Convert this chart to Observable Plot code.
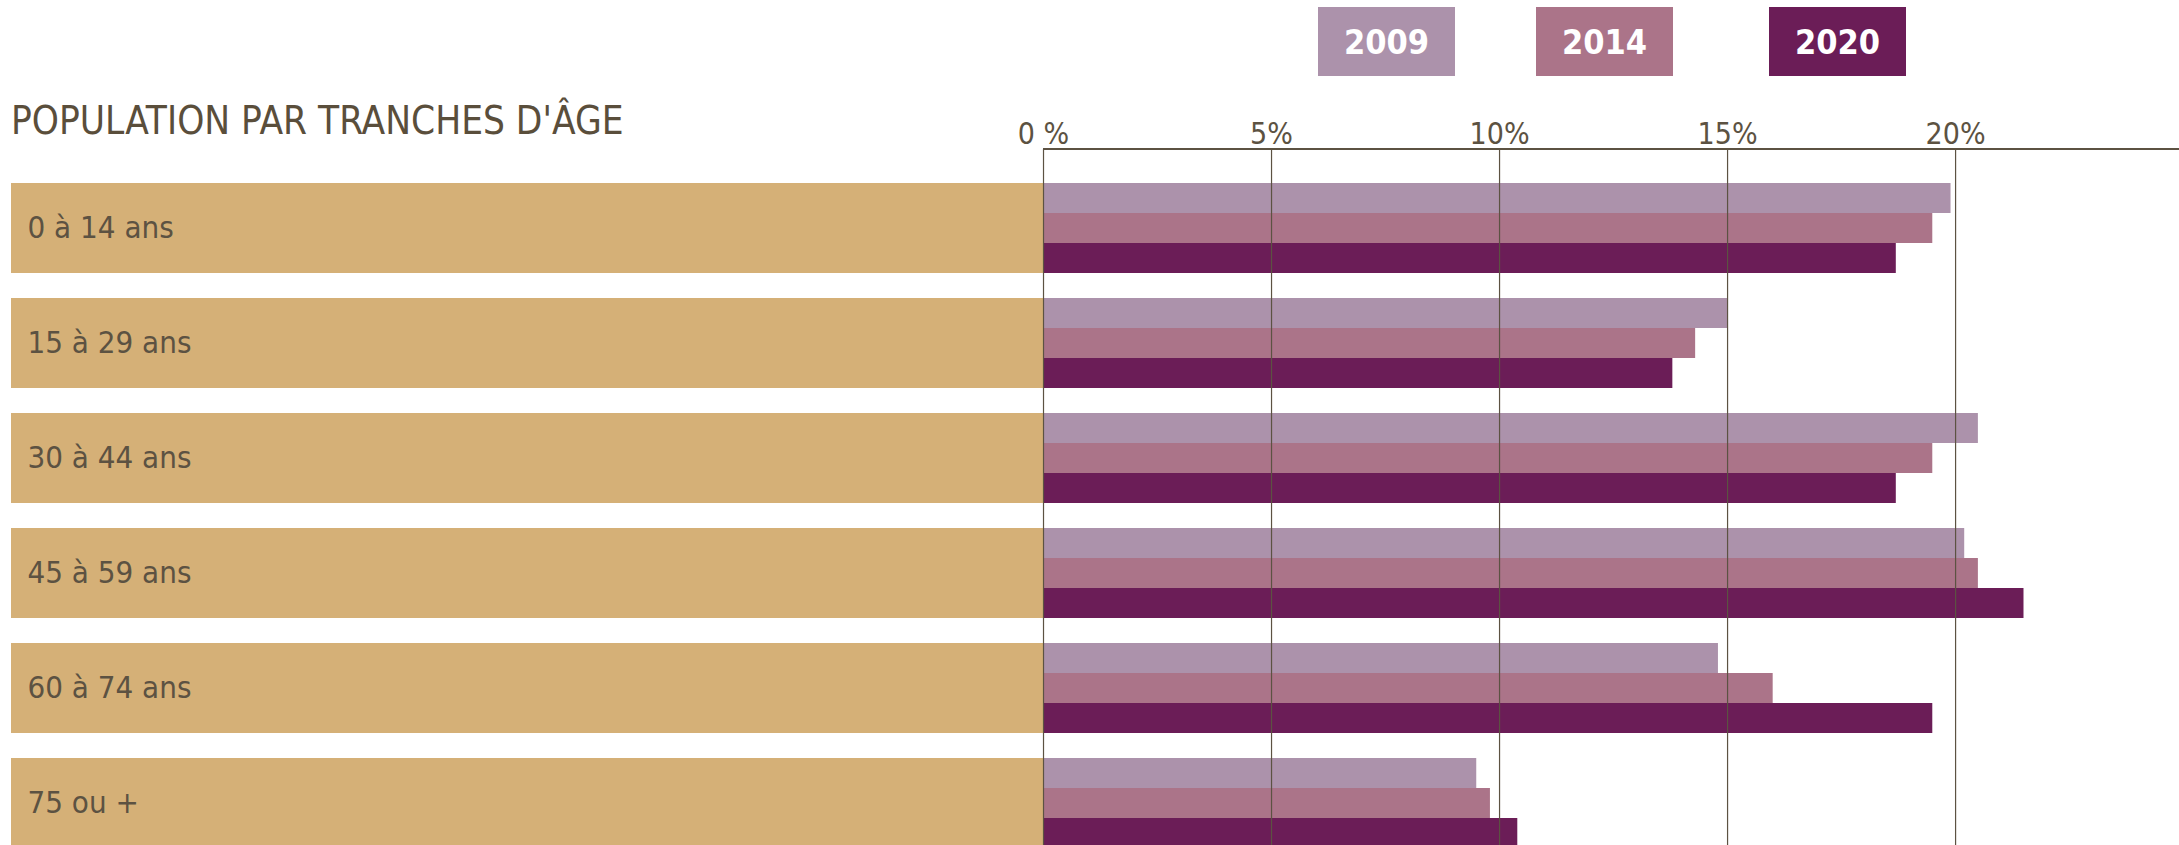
<!DOCTYPE html>
<html><head><meta charset="utf-8">
<script src="https://cdn.jsdelivr.net/npm/d3@7"></script>
<script src="https://cdn.jsdelivr.net/npm/@observablehq/plot@0.6"></script>
<style>
body{margin:0;background:#fff;}
#wrap{position:relative;width:2179px;height:845px;overflow:hidden;font-family:"DejaVu Sans Condensed","DejaVu Sans",sans-serif;font-stretch:condensed;}
#chart{position:absolute;left:0;top:0;}
#title{position:absolute;left:11px;top:102px;font-size:38.4px;line-height:1;color:#5a4e3b;white-space:nowrap;margin:0;font-weight:normal;}
.lg{position:absolute;top:7px;height:69px;width:137px;color:#fff;font-weight:bold;font-size:34px;display:flex;align-items:center;justify-content:center;}
</style></head><body>
<div id="wrap">
  <div id="chart"></div>
  <h2 id="title">POPULATION PAR TRANCHES D'ÂGE</h2>
  <div id="legend"></div>
</div>
<script>
const categories = ["0 à 14 ans","15 à 29 ans","30 à 44 ans","45 à 59 ans","60 à 74 ans","75 ou +"];
const years = ["2009","2014","2020"];
const values2009 = [19.9, 15.0, 20.5, 20.2, 14.8, 9.5];
const values2014 = [19.5, 14.3, 19.5, 20.5, 16.0, 9.8];
const values2020 = [18.7, 13.8, 18.7, 21.5, 19.5, 10.4];
const tickValues = [0, 5, 10, 15, 20];
const tickLabels = ["0 %", "5%", "10%", "15%", "20%"];
const yearColors = ["#ac92ab", "#ab7489", "#6b1d57"];

const series = [values2009, values2014, values2020];
const rows = categories.flatMap((c, i) => years.map((y, j) => ({cat: c, year: y, value: series[j][i]})));
const xDomain = [-22.63, 24.91];
const ink = "#5c5242";
const tan = "#d5b077";
const font = "'DejaVu Sans Condensed','DejaVu Sans',sans-serif";

const W = 2179, H = 845, mTop = 149, mBottom = -3, mLeft = 11, mRight = 0;
const yOpts = {domain: categories, paddingInner: 0.2215, paddingOuter: 0.134, align: 1};
// bandwidth of the category band scale, so the three year bars split each band
const bw = Plot.scale({y: {type: "band", ...yOpts, range: [mTop, H - mBottom]}}).bandwidth;

const chart = Plot.plot({
  width: W, height: H,
  marginTop: mTop, marginBottom: mBottom, marginLeft: mLeft, marginRight: mRight,
  style: {fontFamily: font, background: "transparent", color: ink},
  x: {domain: xDomain},
  y: {...yOpts, axis: null},
  color: {domain: years, range: yearColors},
  marks: [
    Plot.barX(categories, {y: d => d, x1: () => xDomain[0], x2: () => 0, fill: tan}),
    Plot.text(categories, {y: d => d, frameAnchor: "left", dx: 16, text: d => d, textAnchor: "start", fontSize: 31, fill: ink}),
    ...years.map((yr, j) => Plot.barX(rows.filter(r => r.year === yr), {
      y: "cat", x: "value", fill: "year",
      insetTop: j * bw / 3, insetBottom: (years.length - 1 - j) * bw / 3
    })),
    Plot.ruleX(tickValues, {stroke: ink, strokeWidth: 1.2}),
    Plot.axisX(tickValues, {anchor: "top", tickSize: 0, tickPadding: 6, label: null, fontSize: 30,
      tickFormat: d => tickLabels[tickValues.indexOf(d)]}),
    (index, scales, values, dims) => {
      const l = document.createElementNS("http://www.w3.org/2000/svg", "line");
      l.setAttribute("x1", scales.x(0));
      l.setAttribute("x2", dims.width - dims.marginRight);
      l.setAttribute("y1", dims.marginTop);
      l.setAttribute("y2", dims.marginTop);
      l.setAttribute("stroke", ink);
      l.setAttribute("stroke-width", 2);
      return l;
    }
  ]
});
document.getElementById("chart").append(chart);

const legendLefts = [1318, 1536, 1769];
const legend = document.getElementById("legend");
years.forEach((y, i) => {
  const d = document.createElement("div");
  d.className = "lg";
  d.style.left = legendLefts[i] + "px";
  d.style.background = yearColors[i];
  d.textContent = y;
  legend.append(d);
});
</script>
</body></html>
